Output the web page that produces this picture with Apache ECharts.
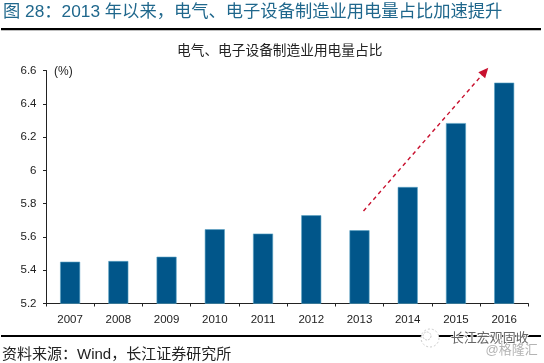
<!DOCTYPE html>
<html><head><meta charset="utf-8">
<style>html,body{margin:0;padding:0;background:#fff}#c{width:544px;height:363px}</style>
<script src="https://cdn.jsdelivr.net/npm/echarts@6/dist/echarts.min.js"></script>
</head><body><div id="c"></div>
<script>
const categories = ['2007','2008','2009','2010','2011','2012','2013','2014','2015','2016'];
const shares = [5.451,5.455,5.481,5.646,5.62,5.73,5.64,5.9,6.284,6.527];
const yTicks = {min:5.2,max:6.6,interval:0.2};
const figureTitle = '图 28：2013 年以来，电气、电子设备制造业用电量占比加速提升';
const chartTitle = '电气、电子设备制造业用电量占比';
const unitLabel = '(%)';
const sourceText = '资料来源：Wind，长江证券研究所';
const FONT = '"Liberation Sans","Noto Sans CJK SC",sans-serif';
const chart = echarts.init(document.getElementById('c'),null,{renderer:'canvas'});
chart.setOption({
  animation:false,
  backgroundColor:'#fff',
  textStyle:{fontFamily:FONT},
  grid:{left:46,right:15.7,top:70.5,bottom:59.5,containLabel:false},
  xAxis:{type:'category',data:categories,
    axisLine:{lineStyle:{color:'#222',width:1}},
    axisTick:{show:true,alignWithLabel:false,length:3,lineStyle:{color:'#222'}},
    axisLabel:{color:'#222',fontSize:11.5,margin:10.5,fontFamily:FONT}},
  yAxis:{type:'value',min:yTicks.min,max:yTicks.max,interval:yTicks.interval,
    axisLine:{show:true,lineStyle:{color:'#222',width:1}},
    axisTick:{show:true,length:3,lineStyle:{color:'#222'}},
    splitLine:{show:false},
    axisLabel:{color:'#222',fontSize:11.5,margin:9.5,fontFamily:FONT,
      formatter:v=>Number.isInteger(+v.toFixed(6))?String(Math.round(v)):v.toFixed(1)}},
  series:[{type:'bar',data:shares,barWidth:20,
    itemStyle:{color:'#01568a',borderColor:'#5ba3c4',borderWidth:0.6},
    markLine:{silent:true,animation:false,symbol:['none','triangle'],symbolSize:[9,10],
      label:{show:false},
      lineStyle:{color:'#c8102e',type:[4,3.5],width:1.4},
      emphasis:{disabled:true},
      data:[[{x:363.5,y:211},{x:485,y:71.5}]]}}],
  graphic:[
    {type:'text',left:3,top:4,style:{text:figureTitle,fill:'#1f678c',font:'17.3px '+FONT}},
    {type:'rect',shape:{x:1,y:28,width:540,height:2.3},style:{fill:'#000'}},
    {type:'text',left:177,top:44,style:{text:chartTitle,fill:'#222',font:'13.7px '+FONT}},
    {type:'text',left:54,top:66,style:{text:unitLabel,fill:'#222',font:'12px '+FONT}},
    {type:'rect',shape:{x:1,y:335,width:540,height:2},style:{fill:'#000'}},
    {type:'text',left:2,top:347,style:{text:sourceText,fill:'#222',font:'15px '+FONT}},
    {type:'circle',z:9,shape:{cx:430,cy:338,r:9},style:{fill:'#fff',stroke:'#ccc',lineWidth:1,lineDash:[2,2]}},
    {type:'circle',z:9,shape:{cx:427,cy:336,r:4},style:{fill:'#fff',stroke:'#ccc',lineWidth:1,lineDash:[2,1]}},
    {type:'text',left:450,top:331,z:10,style:{text:'长江宏观固收',fill:'#666',stroke:'#fff',lineWidth:1.5,font:'13px '+FONT}},
    {type:'text',left:485,top:343,z:10,style:{text:'@格隆汇',fill:'#b4b4b4',stroke:'#fff',lineWidth:1,font:'13px '+FONT}}
  ]
});
</script></body></html>
